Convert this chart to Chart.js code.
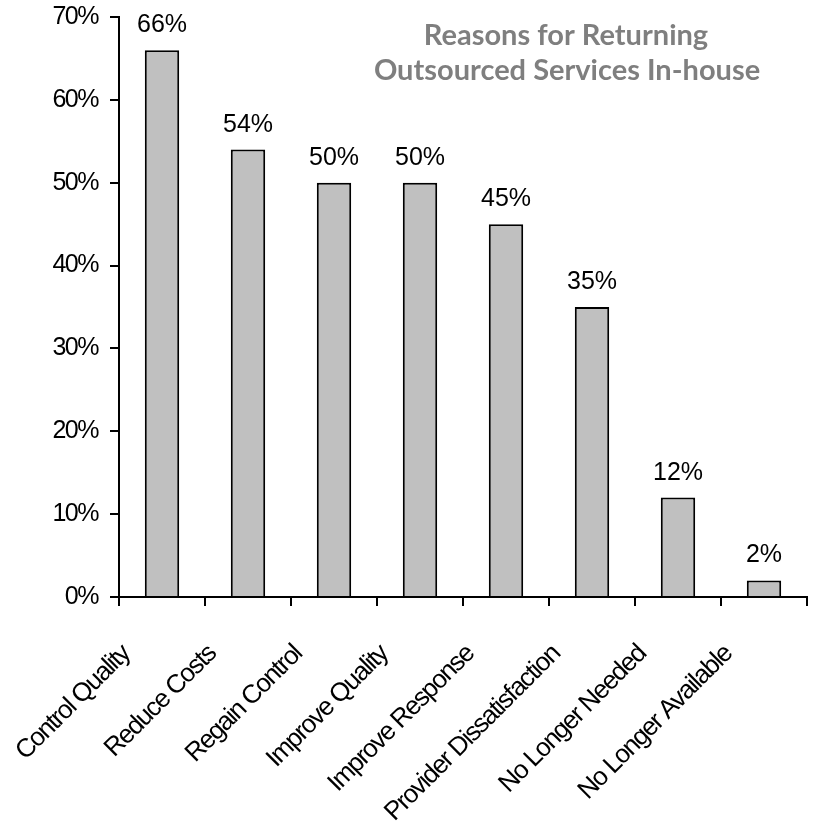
<!DOCTYPE html>
<html>
<head>
<meta charset="utf-8">
<script src="https://cdn.jsdelivr.net/npm/chart.js@4.4.1/dist/chart.umd.min.js"></script>
<style>
  html, body { margin: 0; padding: 0; background: #fff; }
  #wrap { width: 815px; height: 825px; }
</style>
</head>
<body>
<div id="wrap"><canvas id="chart"></canvas></div>
<script>
const reasons = [
  "Control Quality",
  "Reduce Costs",
  "Regain Control",
  "Improve Quality",
  "Improve Response",
  "Provider Dissatisfaction",
  "No Longer Needed",
  "No Longer Available",
];
const shares = [66, 54, 50, 50, 45, 35, 12, 2];
const yTicks = [0, 10, 20, 30, 40, 50, 60, 70];
const titleLines = ["Reasons for Returning", "Outsourced Services In-house"];

// squeeze the rotated category labels a bit, like the original
const squeeze = {
  id: "squeeze",
  beforeDraw(chart) { chart.ctx.letterSpacing = "-1.5px"; },
  beforeDatasetsDraw(chart) { chart.ctx.letterSpacing = "0px"; },
};

const barLabels = {
  id: "barLabels",
  afterDatasetsDraw(chart) {
    const ctx = chart.ctx;
    const meta = chart.getDatasetMeta(0);
    ctx.save();
    ctx.font = "25px 'Liberation Sans', Arial, sans-serif";
    ctx.fillStyle = "#000";
    ctx.textAlign = "center";
    ctx.textBaseline = "alphabetic";
    meta.data.forEach((bar, i) => {
      ctx.fillText(shares[i] + "%", bar.x, bar.y - 18);
    });
    ctx.restore();
  },
};

const titleText = {
  id: "titleText",
  afterDraw(chart) {
    const ctx = chart.ctx;
    ctx.save();
    ctx.font = "bold 29px Lato, 'Open Sans', sans-serif";
    ctx.fillStyle = "#7f7f7f";
    ctx.textAlign = "center";
    ctx.textBaseline = "alphabetic";
    ctx.fillText(titleLines[0], 566, 45);
    ctx.fillText(titleLines[1], 567, 80);
    ctx.restore();
  },
};

new Chart(document.getElementById("chart"), {
  type: "bar",
  data: {
    labels: reasons,
    datasets: [{
      data: shares,
      backgroundColor: "#c0c0c0",
      borderColor: "#000",
      borderWidth: 2,
      barPercentage: 0.4,
      categoryPercentage: 1,
    }],
  },
  options: {
    responsive: true,
    maintainAspectRatio: false,
    animation: false,
    layout: { padding: { top: 17, right: 8, left: 0, bottom: 0 } },
    plugins: { legend: { display: false }, tooltip: { enabled: false }, title: { display: false } },
    scales: {
      x: {
        z: 0,
        grid: { display: true, drawOnChartArea: false, drawTicks: true, tickLength: 9, color: "#000", lineWidth: 2, offset: true },
        border: { display: true, color: "#000", width: 2 },
        ticks: {
          color: "#000",
          font: { family: "'Liberation Sans', Arial, sans-serif", size: 26 },
          minRotation: 45,
          maxRotation: 45,
          autoSkip: false,
          padding: 33,
          labelOffset: -36,
        },
        afterFit(scale) {
          scale.height = 228;
          scale.paddingLeft = 0;
          scale.paddingRight = 0;
        },
      },
      y: {
        z: 1,
        min: 0,
        max: 70,
        grid: { display: true, drawOnChartArea: false, drawTicks: true, tickLength: 9, color: "#000", lineWidth: 2 },
        border: { display: true, color: "#000", width: 2 },
        afterBuildTicks(scale) { scale.ticks = yTicks.map((v) => ({ value: v })); },
        ticks: {
          color: "#000",
          font: { family: "'Liberation Sans', Arial, sans-serif", size: 25 },
          padding: 12,
          callback: (v) => v + "%",
        },
        afterFit(scale) {
          scale.width = 119;
          scale.paddingTop = 0;
          scale.paddingBottom = 0;
        },
      },
    },
  },
  plugins: [squeeze, barLabels, titleText],
});
</script>
</body>
</html>
